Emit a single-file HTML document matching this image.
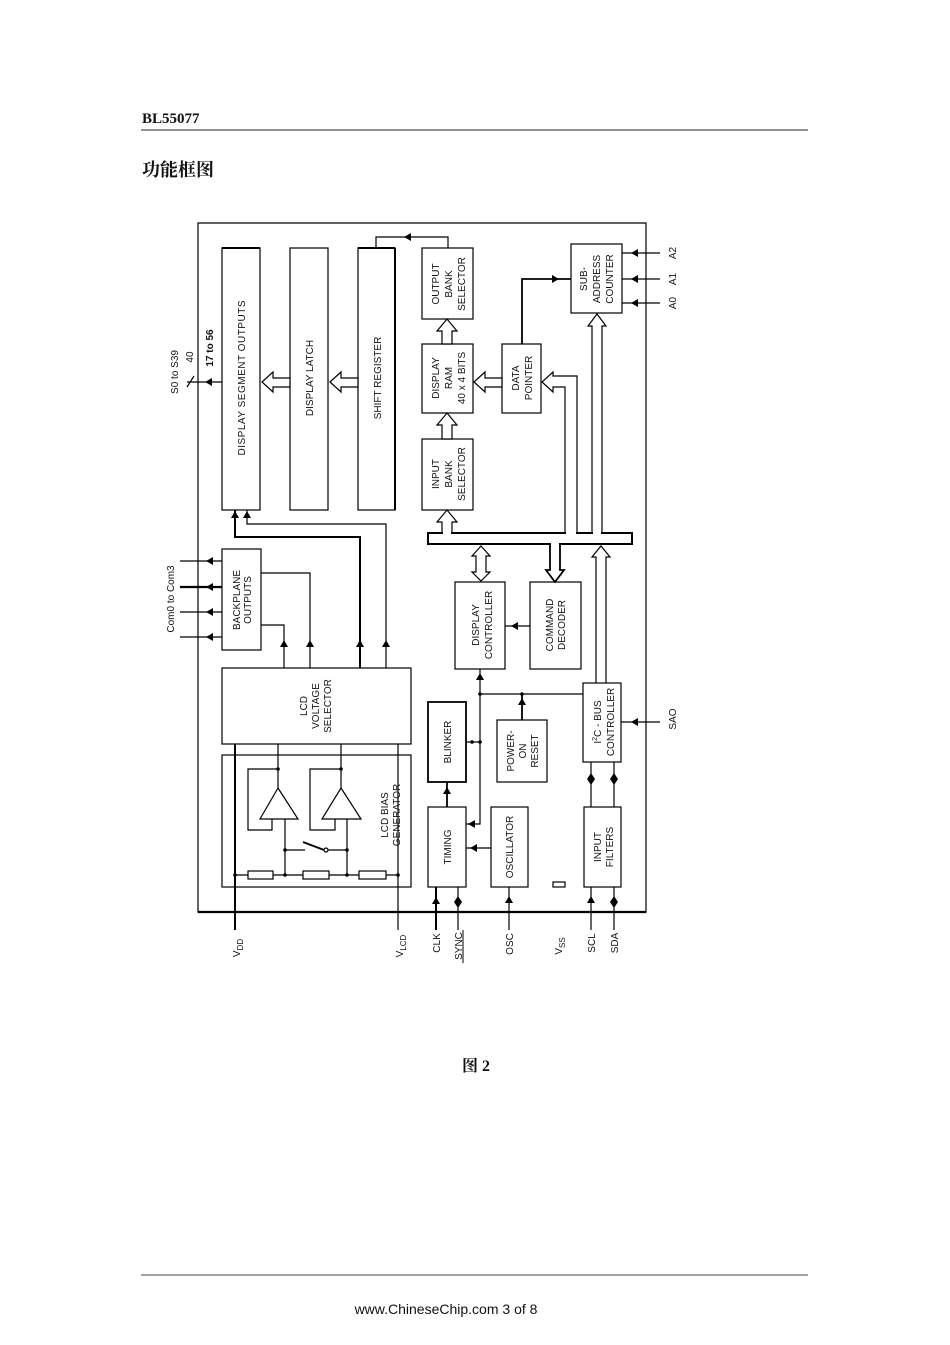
<!DOCTYPE html>
<html><head><meta charset="utf-8"><style>
html,body{margin:0;padding:0;background:#fff;}
body{width:950px;height:1345px;overflow:hidden;}
svg{display:block;}
.t{font-family:"Liberation Sans",sans-serif;font-size:10px;fill:#111;}
</style></head><body>
<svg width="950" height="1345" viewBox="0 0 950 1345" xmlns="http://www.w3.org/2000/svg">
<text x="142" y="123" font-family="Liberation Serif,serif" font-weight="bold" font-size="15" fill="#111">BL55077</text>
<line x1="141" y1="130" x2="808" y2="130" stroke="#222" stroke-width="1"/>
<text x="142" y="176" font-family="'Liberation Serif','Noto Serif CJK SC',serif" font-weight="bold" font-size="18" fill="#111">功能框图</text>

<g fill="none" stroke="#000" stroke-width="1.2">
<path d="M198,223 H646 V912 H198 Z"/>
<line x1="198" y1="912" x2="646" y2="912" stroke-width="2.2"/>
<rect x="222" y="248" width="38" height="262"/>
<rect x="290" y="248" width="38" height="262"/>
<rect x="358" y="248" width="37" height="262"/>
<line x1="222" y1="248" x2="260" y2="248" stroke-width="2"/>
<line x1="358" y1="248" x2="395" y2="248" stroke-width="2"/>
<line x1="395" y1="248" x2="395" y2="510" stroke-width="2"/>
<rect x="422" y="248" width="51" height="71"/>
<rect x="422" y="344" width="51" height="69"/>
<rect x="422" y="439" width="51" height="71"/>
<rect x="502" y="344" width="39" height="69"/>
<rect x="571" y="244" width="51" height="69"/>
<polyline points="376,248 376,237 448,237 448,248"/>
<polyline points="522,344 522,279 571,279" stroke-width="1.8"/>
<line x1="622" y1="253" x2="660" y2="253"/>
<line x1="622" y1="279" x2="660" y2="279"/>
<line x1="622" y1="303" x2="660" y2="303"/>
<polygon fill="#fff" points="262,382 273,372 273,378 290,378 290,387 273,387 273,392"/>
<polygon fill="#fff" points="330,382 341,372 341,378 358,378 358,387 341,387 341,392"/>
<polygon fill="#fff" points="474,382 485,372 485,378 502,378 502,387 485,387 485,392"/>
<polygon fill="#fff" points="447,319 457,331 452,331 452,344 442,344 442,331 437,331"/>
<polygon fill="#fff" points="447,413 457,425 452,425 452,439 442,439 442,425 437,425"/>
<rect x="428" y="533" width="204" height="11" stroke-width="2"/>
</g>
<g fill="#fff">
<rect x="443" y="531" width="8" height="4"/>
<rect x="566" y="531" width="10" height="4"/>
<rect x="593" y="531" width="8" height="4"/>
<rect x="551" y="542" width="8" height="4"/>
</g>
<g fill="none" stroke="#000" stroke-width="1.2">
<polyline points="442,534 442,522 437,522 447,510 457,522 452,522 452,534"/>
<polyline points="577,534 577,376 553,376 553,372 542,382 553,392 553,387 565,387 565,534"/>
<polyline points="592,534 592,326 588,326 597,314 606,326 602,326 602,534"/>
<polygon fill="#fff" points="481,546 490,556 486,556 486,572 490,572 481,581 472,572 476,572 476,556 472,556"/>
<polyline stroke-width="1.8" points="550,543 550,570 546,570 555,582 564,570 560,570 560,543"/>
<polyline points="596,683 596,557 592,557 601,546 610,557 606,557 606,683"/>

<rect x="222" y="549" width="39" height="101"/>
<rect x="222" y="668" width="189" height="76"/>
<rect x="222" y="755" width="189" height="132"/>
<rect x="455" y="582" width="50" height="87"/>
<rect x="530" y="582" width="51" height="87"/>
<rect x="583" y="683" width="38" height="79"/>
<rect x="428" y="702" width="38" height="80" stroke-width="1.8"/>
<rect x="497" y="720" width="50" height="62"/>
<rect x="428" y="807" width="38" height="80"/>
<rect x="491" y="807" width="37" height="80"/>
<rect x="584" y="807" width="37" height="80"/>
<rect x="553" y="882" width="12" height="5"/>

<line x1="180" y1="561" x2="222" y2="561"/>
<line x1="180" y1="587" x2="222" y2="587" stroke-width="2.2"/>
<line x1="180" y1="612" x2="222" y2="612"/>
<line x1="180" y1="637" x2="222" y2="637"/>
<polyline points="261,573 310,573 310,668"/>
<polyline points="261,625 284,625 284,668"/>
<polyline points="235,510 235,537 360,537 360,668" stroke-width="2"/>
<polyline points="247,510 247,524 386,524 386,668"/>
<line x1="187" y1="382" x2="222" y2="382"/>
<line x1="187" y1="387" x2="194" y2="376"/>
<line x1="235" y1="744" x2="235" y2="930" stroke-width="2"/>
<line x1="398" y1="744" x2="398" y2="930"/>
<polyline points="278,744 278,788"/>
<polyline points="341,744 341,788"/>
<polygon points="278,788 298,819 260,819"/>
<polygon points="341,788 361,819 322,819"/>
<polyline points="278,769 248,769 248,830 272,830 272,819"/>
<polyline points="341,769 310,769 310,830 335,830 335,819"/>
<line x1="285" y1="819" x2="285" y2="875"/>
<line x1="347" y1="819" x2="347" y2="875"/>
<polyline points="285,850 305,850"/>
<line x1="303" y1="842" x2="324" y2="850" stroke-width="1.8"/>
<circle cx="326" cy="850" r="2" fill="#fff"/>
<line x1="328" y1="850" x2="347" y2="850"/>
<line x1="235" y1="875" x2="398" y2="875"/>
<rect x="248" y="871" width="25" height="8" fill="#fff"/>
<rect x="303" y="871" width="26" height="8" fill="#fff"/>
<rect x="359" y="871" width="27" height="8" fill="#fff"/>
<line x1="530" y1="626" x2="505" y2="626"/>
<polyline points="480,669 480,824 466,824"/>
<line x1="480" y1="694" x2="583" y2="694"/>
<line x1="522" y1="694" x2="522" y2="720" stroke-width="1.8"/>
<line x1="466" y1="742" x2="480" y2="742"/>
<line x1="447" y1="782" x2="447" y2="807" stroke-width="1.8"/>
<line x1="491" y1="848" x2="466" y2="848"/>
<line x1="591" y1="762" x2="591" y2="807"/>
<line x1="614" y1="762" x2="614" y2="807"/>
<line x1="621" y1="722" x2="660" y2="722"/>
<line x1="436" y1="887" x2="436" y2="930" stroke-width="2"/>
<line x1="458" y1="887" x2="458" y2="930"/>
<line x1="509" y1="887" x2="509" y2="930"/>
<line x1="591" y1="887" x2="591" y2="930"/>
<line x1="614" y1="887" x2="614" y2="930"/>
</g>
<g fill="#000">
<polygon points="404,237 411,233 411,241"/>
<polygon points="559,279 552,275 552,283"/>
<polygon points="631,253 638,249 638,257"/><polygon points="631,279 638,275 638,283"/><polygon points="631,303 638,299 638,307"/>
<polygon points="631,722 638,718 638,726"/>
<polygon points="235,511 231,518 239,518"/><polygon points="247,511 243,518 251,518"/>
<polygon points="205,382 212,378 212,386"/>
<polygon points="206,561 213,557 213,565"/><polygon points="206,587 213,583 213,591"/><polygon points="206,612 213,608 213,616"/><polygon points="206,637 213,633 213,641"/>
<polygon points="284,640 280,647 288,647"/><polygon points="310,640 306,647 314,647"/><polygon points="360,640 356,647 364,647"/><polygon points="386,640 382,647 390,647"/>
<polygon points="511,626 518,622 518,630"/>
<polygon points="480,673 476,680 484,680"/>
<polygon points="522,698 518,705 526,705"/>
<polygon points="447,787 443,794 451,794"/>
<polygon points="468,824 475,820 475,828"/>
<polygon points="470,848 477,844 477,852"/>
<polygon points="436,897 432,904 440,904"/>
<polygon points="458,896 454,902 462,902"/><polygon points="458,908 454,902 462,902"/>
<polygon points="509,896 505,903 513,903"/>
<polygon points="591,896 587,903 595,903"/>
<polygon points="614,896 610,902 618,902"/><polygon points="614,908 610,902 618,902"/>
<polygon points="591,773 587,779 595,779"/><polygon points="591,785 587,779 595,779"/>
<polygon points="614,773 610,779 618,779"/><polygon points="614,785 610,779 618,779"/>
<circle cx="278" cy="769" r="1.8"/><circle cx="341" cy="769" r="1.8"/>
<circle cx="285" cy="850" r="1.8"/><circle cx="347" cy="850" r="1.8"/>
<circle cx="235" cy="875" r="1.8"/><circle cx="285" cy="875" r="1.8"/><circle cx="347" cy="875" r="1.8"/><circle cx="398" cy="875" r="1.8"/>
<circle cx="480" cy="694" r="1.8"/><circle cx="522" cy="694" r="1.8"/>
<circle cx="472" cy="742" r="1.8"/><circle cx="480" cy="742" r="1.8"/>
</g>
<g class="t" text-anchor="middle">
<text transform="translate(245,378) rotate(-90)" textLength="155">DISPLAY SEGMENT OUTPUTS</text>
<text transform="translate(313,378) rotate(-90)">DISPLAY LATCH</text>
<text transform="translate(381,378) rotate(-90)">SHIFT REGISTER</text>
<text transform="translate(439,284) rotate(-90)">OUTPUT</text>
<text transform="translate(452,284) rotate(-90)">BANK</text>
<text transform="translate(465,284) rotate(-90)">SELECTOR</text>
<text transform="translate(439,378) rotate(-90)">DISPLAY</text>
<text transform="translate(452,378) rotate(-90)">RAM</text>
<text transform="translate(465,378) rotate(-90)">40 x 4 BITS</text>
<text transform="translate(439,474) rotate(-90)">INPUT</text>
<text transform="translate(452,474) rotate(-90)">BANK</text>
<text transform="translate(465,474) rotate(-90)">SELECTOR</text>
<text transform="translate(519,378) rotate(-90)">DATA</text>
<text transform="translate(532,378) rotate(-90)">POINTER</text>
<text transform="translate(587,279) rotate(-90)">SUB-</text>
<text transform="translate(600,279) rotate(-90)">ADDRESS</text>
<text transform="translate(613,279) rotate(-90)">COUNTER</text>
<text transform="translate(240,600) rotate(-90)">BACKPLANE</text>
<text transform="translate(251,600) rotate(-90)">OUTPUTS</text>
<text transform="translate(307,706) rotate(-90)">LCD</text>
<text transform="translate(319,706) rotate(-90)">VOLTAGE</text>
<text transform="translate(331,706) rotate(-90)">SELECTOR</text>
<text transform="translate(388,815) rotate(-90)">LCD BIAS</text>
<text transform="translate(400,815) rotate(-90)">GENERATOR</text>
<text transform="translate(479,625) rotate(-90)">DISPLAY</text>
<text transform="translate(492,625) rotate(-90)">CONTROLLER</text>
<text transform="translate(553,625) rotate(-90)">COMMAND</text>
<text transform="translate(565,625) rotate(-90)">DECODER</text>
<text transform="translate(451,742) rotate(-90)">BLINKER</text>
<text transform="translate(514,751) rotate(-90)">POWER-</text>
<text transform="translate(526,751) rotate(-90)">ON</text>
<text transform="translate(538,751) rotate(-90)">RESET</text>
<text transform="translate(451,847) rotate(-90)">TIMING</text>
<text transform="translate(513,847) rotate(-90)">OSCILLATOR</text>
<text transform="translate(601,722) rotate(-90)">I<tspan font-size="7" dy="-4">2</tspan><tspan dy="4">C - BUS</tspan></text>
<text transform="translate(614,722) rotate(-90)">CONTROLLER</text>
<text transform="translate(601,847) rotate(-90)">INPUT</text>
<text transform="translate(613,847) rotate(-90)">FILTERS</text>
<text transform="translate(174,599) rotate(-90)">Com0 to Com3</text>
<text transform="translate(178,372) rotate(-90)">S0 to S39</text>
<text transform="translate(213,348) rotate(-90)" font-weight="bold">17 to 56</text>
<text transform="translate(193,357) rotate(-90)">40</text>
<text transform="translate(240,948) rotate(-90)">V<tspan font-size="8" dy="3">DD</tspan></text>
<text transform="translate(403,946) rotate(-90)">V<tspan font-size="8" dy="3">LCD</tspan></text>
<text transform="translate(440,943) rotate(-90)">CLK</text>
<text transform="translate(462,946) rotate(-90)">SYNC</text>
<text transform="translate(513,944) rotate(-90)">OSC</text>
<text transform="translate(562,946) rotate(-90)">V<tspan font-size="8" dy="3">SS</tspan></text>
<text transform="translate(595,943) rotate(-90)">SCL</text>
<text transform="translate(618,943) rotate(-90)">SDA</text>
<text transform="translate(676,253) rotate(-90)">A2</text>
<text transform="translate(676,279) rotate(-90)">A1</text>
<text transform="translate(676,303) rotate(-90)">A0</text>
<text transform="translate(676,719) rotate(-90)">SAO</text>
</g>
<line x1="463" y1="930" x2="463" y2="963" stroke="#000" stroke-width="1"/>

<text x="476" y="1071" text-anchor="middle" font-family="'Liberation Serif','Noto Serif CJK SC',serif" font-weight="bold" font-size="16" fill="#111">图 2</text>
<line x1="141" y1="1275" x2="808" y2="1275" stroke="#444" stroke-width="1"/>
<text x="446" y="1314" text-anchor="middle" font-family="Liberation Sans,sans-serif" font-size="14" fill="#111">www.ChineseChip.com  3 of 8</text>
</svg>
</body></html>
